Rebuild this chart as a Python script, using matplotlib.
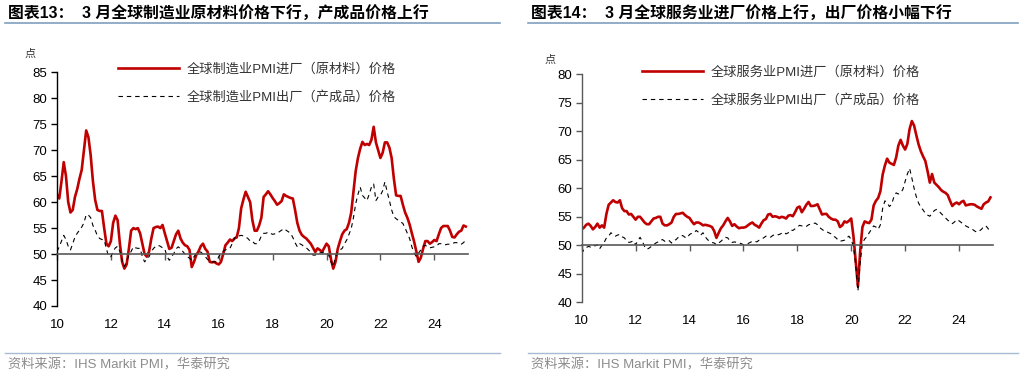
import numpy as np
import matplotlib.pyplot as plt
from matplotlib.lines import Line2D

plt.rcParams['font.family'] = ['Liberation Sans', 'Noto Sans CJK SC', 'DejaVu Sans']

# monthly readings, Jan 2010 - Mar 2025
mfg_input = [
    61.5, 60.7, 64.0, 67.7, 65.0, 60.0, 58.0, 58.5, 61.0, 62.5, 64.5, 66.2,
    70.0, 73.8, 72.5, 69.0, 64.0, 60.4, 58.5, 58.3, 58.3, 55.0, 52.0, 51.5,
    52.5, 56.0, 57.4, 56.5, 52.0, 48.5, 47.2, 48.0, 51.0, 54.5, 55.0, 54.8,
    55.0, 54.0, 52.0, 50.0, 49.5, 50.5, 53.0, 55.0, 55.2, 55.3, 55.0, 55.6,
    54.0, 52.5, 51.0, 51.2, 52.5, 53.8, 54.5, 53.0, 52.2, 51.7, 51.5, 50.8,
    47.5, 48.5, 49.8, 50.5, 51.5, 52.0, 51.0, 50.5, 48.5, 48.4, 48.5, 48.2,
    48.0, 48.5, 50.0, 51.7, 52.2, 52.8, 52.5, 53.0, 53.2, 55.0, 58.8, 60.5,
    62.0, 61.0, 60.0, 56.5, 54.5, 54.5, 55.5, 57.0, 61.0, 61.5, 62.1, 61.5,
    60.8, 60.2, 59.5, 59.8, 60.2, 61.5, 61.2, 61.0, 60.8, 60.7, 58.5, 56.0,
    54.5, 53.7, 53.3, 53.0, 52.5, 52.0, 51.2, 50.4, 51.1, 50.8, 50.4, 51.2,
    52.0, 51.5, 49.0, 47.2, 48.5, 51.0, 52.5, 53.8, 54.5, 54.8, 56.0, 58.0,
    62.0, 66.0, 68.5, 70.3, 71.6, 71.0, 71.2, 71.0, 72.0, 74.5, 71.5, 70.0,
    68.5, 69.5, 71.5, 71.5, 70.5, 68.5, 64.5, 61.3, 61.2, 61.2, 59.5, 58.0,
    57.0, 55.7, 54.0, 52.4, 50.5, 48.5, 49.3, 51.0, 52.5, 52.5, 52.0, 52.3,
    52.7, 52.5, 53.8, 55.0, 55.4, 55.4, 55.4, 54.5, 53.3, 53.2, 53.8, 54.3,
    54.5, 55.5, 55.3,
]
mfg_output = [
    50.5, 51.4, 52.5, 53.6, 52.8, 51.5, 50.8, 52.0, 53.3, 54.0, 54.6, 55.2,
    56.0, 57.6, 57.5, 57.0, 55.5, 54.6, 53.5, 53.0, 52.8, 52.7, 51.0, 49.5,
    49.5, 50.5, 51.2, 51.5, 50.5, 48.8, 47.6, 48.5, 49.8, 50.5, 51.4, 51.2,
    51.1, 51.1, 49.5, 48.5, 49.0, 49.5, 50.5, 51.1, 51.5, 51.7, 51.5, 51.2,
    51.0, 49.5, 48.8, 49.5, 50.1, 51.0, 51.4, 51.0, 50.5, 50.0, 49.5, 49.2,
    48.8, 49.5, 50.1, 50.3, 50.4, 50.0, 49.5, 49.0, 48.5, 48.5, 48.5, 48.5,
    49.5, 50.1, 50.5, 50.8, 51.0, 51.1, 52.0, 53.0, 53.6, 53.5, 53.6, 53.5,
    53.3, 53.0, 52.5, 52.5, 52.0, 52.0, 52.5, 53.5, 54.0, 54.0, 54.2, 54.0,
    53.8, 53.9, 54.0, 54.3, 54.6, 54.9, 54.6, 54.3, 54.0, 53.2, 52.2, 51.4,
    52.0, 51.8, 51.4, 51.2, 50.8, 50.3, 49.8, 49.8, 50.1, 50.2, 50.3, 50.4,
    50.2, 49.8, 48.5, 47.6, 49.5, 50.4, 50.8, 51.1, 52.0, 52.7, 53.8, 54.9,
    57.0, 59.7, 61.5, 62.9, 61.3, 60.8, 60.3, 61.5, 62.9, 63.5, 60.3, 61.0,
    61.3, 62.2, 63.9, 62.0, 60.3, 58.5, 57.2, 56.8, 56.5, 56.2, 55.9, 55.0,
    54.0, 53.0, 51.4, 50.2, 49.5, 50.2, 50.8, 51.5, 51.7, 51.3, 51.2, 51.3,
    51.4, 51.5, 52.0, 52.0, 51.8, 51.8, 51.9, 51.9, 52.0, 52.2, 52.2, 52.0,
    51.9, 52.2, 52.7,
]
svc_input = [
    52.8, 53.1, 53.6, 53.8, 53.4, 52.8, 53.2, 53.8, 53.1, 53.5, 53.1, 55.5,
    57.1, 57.5, 57.9, 57.6, 57.5, 57.9, 56.5, 56.0, 56.0, 55.4, 55.5, 55.0,
    54.5, 55.0, 55.0, 54.5, 54.0, 53.7, 53.7, 54.2, 54.7, 54.8, 55.0, 55.0,
    53.8, 53.5, 53.5, 53.7, 54.0, 55.0, 55.5, 55.5, 55.6, 55.7, 55.3, 55.0,
    54.8, 54.2, 53.7, 54.0, 54.0, 53.8, 53.5, 53.6, 53.5, 53.4, 53.2, 52.5,
    51.3, 52.2, 53.0, 53.5, 54.2, 54.8, 54.2, 53.4, 53.7, 53.3, 53.0, 53.1,
    53.1, 53.2, 53.5, 53.8, 54.0, 53.6, 53.4, 53.1, 53.8, 54.4, 54.6, 55.4,
    55.5, 55.0, 55.1, 55.0, 54.8, 55.0, 54.9, 54.7, 55.2, 55.3, 55.1, 55.8,
    56.6, 56.8, 55.8, 56.4, 57.1, 57.6, 56.9, 56.9, 57.0, 57.2, 56.3, 55.4,
    55.5, 55.5, 55.0, 54.7, 54.5, 54.5, 54.2, 53.2, 53.5, 54.2, 54.0, 54.3,
    54.7, 51.6, 47.2, 42.8, 49.0, 53.2, 54.2, 54.0, 53.9, 54.5, 57.0, 57.8,
    58.3, 59.5, 62.4, 64.0, 65.2, 64.5, 64.3, 64.1, 65.4, 67.5, 68.5, 67.5,
    66.8, 67.8, 70.4, 71.8, 71.0, 69.3, 67.7, 66.5, 65.6, 64.8, 63.0, 61.0,
    62.5, 61.0, 60.6, 60.2, 59.7, 59.4, 59.2, 58.8, 57.8, 56.9, 57.3, 57.5,
    57.2, 57.6, 57.8, 57.0, 57.1, 57.2, 57.2, 57.1, 56.8, 56.6, 56.4, 57.2,
    57.5, 57.7, 58.4,
]
svc_output = [
    48.5, 49.3, 49.6, 49.8, 49.7, 50.0, 49.9, 50.1, 49.4, 50.0, 50.5, 51.3,
    51.6, 52.2, 51.9, 51.6, 51.8, 51.9, 51.5, 51.3, 50.8, 50.5, 50.6, 50.8,
    50.1, 50.8, 51.4, 50.7, 49.8, 49.3, 49.5, 49.8, 50.1, 50.4, 50.6, 50.9,
    51.0, 50.7, 50.9, 50.8, 50.4, 50.8, 51.0, 51.4, 51.7, 51.7, 51.4, 51.3,
    51.9, 52.1, 52.2, 52.6, 52.3, 51.8, 52.2, 51.5, 51.0, 50.7, 50.5, 50.4,
    50.1, 50.4, 50.7, 51.1, 51.4, 51.3, 50.8, 50.5, 50.6, 50.5, 50.4, 50.3,
    50.1, 50.2, 50.3, 50.5, 50.7, 50.7, 50.6, 50.9, 51.1, 51.3, 51.6, 51.5,
    51.4, 51.7, 51.9, 51.8, 51.9, 52.1, 52.3, 52.0, 52.2, 52.7, 52.6, 52.9,
    53.2, 53.5, 53.4, 53.3, 53.3, 53.6, 53.7, 53.8, 53.9, 53.6, 53.1, 52.8,
    52.5, 52.4, 52.2, 52.0, 51.6, 51.4, 51.0, 50.7, 50.8, 50.9, 51.3, 51.6,
    51.0, 49.8, 46.5, 42.0, 47.0, 50.4, 51.1, 51.5, 52.2, 52.8, 53.4, 53.2,
    52.8, 53.6, 56.5, 57.8, 57.5, 56.8, 57.2, 58.5, 59.2, 59.0, 59.2, 59.8,
    61.2, 62.5, 63.5, 61.8, 60.0, 58.5, 57.4, 56.7, 56.2, 55.6, 55.3, 55.1,
    55.6, 56.1, 56.3, 56.0, 55.6, 55.2, 54.8, 54.4, 54.1, 53.8, 54.1, 54.5,
    54.3, 54.0, 53.7, 53.4, 53.2, 53.0, 52.8, 52.5, 52.3, 52.5, 52.8, 53.3,
    53.4, 52.9, 52.5,
]

year_labels = ['10', '12', '14', '16', '18', '20', '22', '24']

mfg_names = ['全球制造业PMI进厂（原材料）价格', '全球制造业PMI出厂（产成品）价格']
svc_names = ['全球服务业PMI进厂（原材料）价格', '全球服务业PMI出厂（产成品）价格']

titles = ['图表13：  3 月全球制造业原材料价格下行，产成品价格上行',
          '图表14：  3 月全球服务业进厂价格上行，出厂价格小幅下行']
source = '资料来源：IHS Markit PMI，华泰研究'

W, H = 1030, 377
fig = plt.figure(figsize=(W / 100, H / 100), dpi=100)


def px(x0, y0, x1, y1):
    # pixel box -> figure fraction rect
    return [x0 / W, 1 - y1 / H, (x1 - x0) / W, (y1 - y0) / H]


def panel(rect, inp, out, names, ylim, yspine, xpad, leg_anchor):
    ax = fig.add_axes(rect)
    x = np.arange(len(inp))
    ax.plot(x, inp, color='#C00000', lw=1.9, label=names[0])
    ax.plot(x, out, color='black', lw=0.8, ls=(0, (4, 3.5)), label=names[1])
    ax.set_xlim(0, len(inp))
    ax.set_ylim(*ylim)
    ax.set_yticks(np.arange(ylim[0], ylim[1] + 1, 5))
    ax.set_xticks(np.arange(len(year_labels)) * 24)
    ax.set_xticklabels(year_labels)
    for s in ['top', 'right']:
        ax.spines[s].set_visible(False)
    ax.spines['left'].set_color(yspine)
    ax.spines['left'].set_linewidth(1.0)
    ax.spines['bottom'].set_position(('data', 50))
    ax.spines['bottom'].set_color('#595959')
    ax.spines['bottom'].set_linewidth(1.2)
    ax.tick_params(axis='y', length=4, width=1, color=yspine, labelsize=9.5, pad=3)
    ax.tick_params(axis='x', length=4, width=1, color='#595959', labelsize=9.5, pad=xpad)
    ax.patch.set_alpha(0)
    leg = ax.legend(loc='upper left', bbox_to_anchor=leg_anchor, frameon=False,
                    fontsize=9.5, handlelength=4.6, handletextpad=0.6,
                    labelspacing=1.15, borderpad=0, borderaxespad=0)
    for t in leg.get_texts():
        t.set_color('#333333')
    return ax


# left: manufacturing
panel(px(57, 72.3, 468, 306), mfg_input, mfg_output, mfg_names,
      (40, 85), 'black', 43, (0.148, 1.04))
# right: services
panel(px(581.7, 74.3, 992.7, 302.3), svc_input, svc_output, svc_names,
      (40, 80), '#595959', 46, (0.147, 1.035))

# y unit labels
fig.text(30 / W, 1 - 54 / H, '点', fontsize=8, ha='center', va='center', color='#333333')
fig.text(550 / W, 1 - 60 / H, '点', fontsize=8, ha='center', va='center', color='#333333')

# titles, rules and source lines
for x0, x1, title in [(5, 500, titles[0]), (528, 1018, titles[1])]:
    fig.text((x0 + 3) / W, 1 - 14 / H, title, fontsize=11.4, weight='bold',
             ha='left', va='center', color='black')
    fig.add_artist(Line2D([x0 / W, x1 / W], [1 - 23 / H] * 2, color='#7F9FBF', lw=1.2))
    fig.add_artist(Line2D([x0 / W, x1 / W], [1 - 352.5 / H] * 2, color='#A6BCD4', lw=1.0))
    fig.text((x0 + 3) / W, 1 - 365 / H, source, fontsize=9.5, ha='left', va='center',
             color='#8C8C8C')

fig.savefig('out.png', dpi=100)
